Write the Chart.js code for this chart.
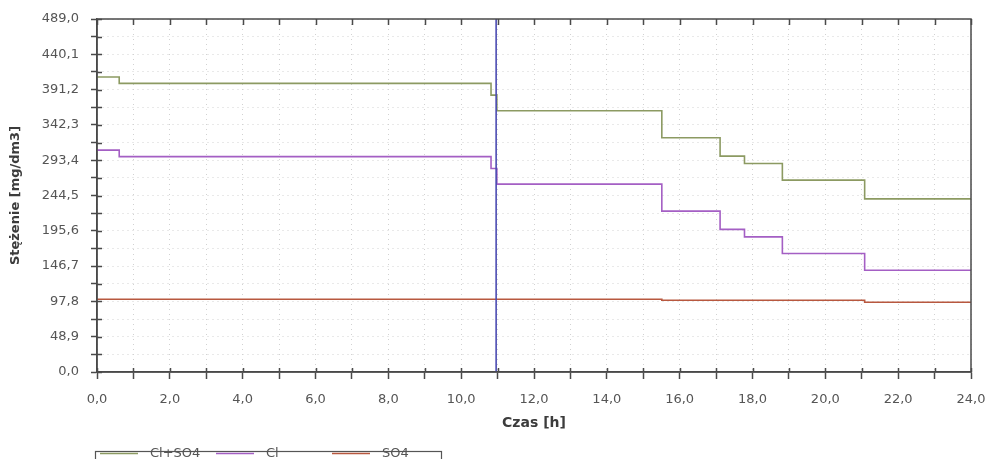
<!DOCTYPE html>
<html>
<head>
<meta charset="utf-8">
<script src="https://cdn.jsdelivr.net/npm/chart.js@4.4.1/dist/chart.umd.min.js"></script>
<style>
  html, body { margin: 0; padding: 0; background: #fff; }
  #wrap { width: 988px; height: 459px; position: relative; }
</style>
</head>
<body>
<div id="wrap"><canvas id="theChart"></canvas></div>
<script>
// hours where the step values change, and the concentration held from each hour
const stepHours = [0, 0.61, 10.82, 10.98, 15.51, 17.11, 17.78, 18.82, 21.08, 24];
const clSo4Values = [408.6, 399.8, 383.6, 361.9, 324.4, 299.0, 288.9, 265.8, 239.8, 239.8];
const clValues = [307.4, 298.4, 282.0, 260.2, 222.8, 197.6, 187.2, 164.1, 141.0, 141.0];
const so4Values = [100.8, 100.8, 100.8, 100.8, 99.4, 99.4, 99.4, 99.4, 96.6, 96.6];
const markerHour = 10.96;

const seriesNames = ["Cl+SO4", "Cl", "SO4"];
const colorPalette = ["#8c9a62", "#a45fc4", "#b8583f"];
const markerColor = "#4b4bb2";

const yMax = 489.0;
const yStep = 24.45;
const xMax = 24;

const chartArea = document.querySelector("#theChart");

function comma(v) {
  return v.toFixed(1).replace(".", ",");
}

const seriesValues = [clSo4Values, clValues, so4Values];
const datasets = seriesValues.map((values, i) => ({
  label: seriesNames[i],
  data: stepHours.map((h, k) => ({ x: h, y: values[k] })),
  borderColor: colorPalette[i],
  backgroundColor: colorPalette[i],
  borderWidth: 1.6,
  stepped: true,
  pointRadius: 0,
  order: 1,
}));

datasets.push({
  label: "marker",
  data: [{ x: markerHour, y: 0 }, { x: markerHour, y: yMax }],
  borderColor: markerColor,
  borderWidth: 1.6,
  pointRadius: 0,
  order: 0,
});

// frame, inner ticks, axis titles and the boxed legend
const frame = {
  id: "frame",
  afterDraw(chart) {
    const { ctx, chartArea: a, scales } = chart;
    const x = scales.x;
    const y = scales.y;
    ctx.save();
    ctx.strokeStyle = "#4a4a4a";
    ctx.lineWidth = 1.5;
    ctx.strokeRect(a.left, a.top, a.right - a.left, a.bottom - a.top);

    ctx.beginPath();
    x.ticks.forEach((t) => {
      const px = Math.round(x.getPixelForValue(t.value)) + 0.5;
      ctx.moveTo(px, a.bottom);
      ctx.lineTo(px, a.bottom - 4);
      ctx.moveTo(px, a.top);
      ctx.lineTo(px, a.top + 6);
    });
    y.ticks.forEach((t) => {
      const py = Math.round(y.getPixelForValue(t.value)) + 0.5;
      ctx.moveTo(a.left, py);
      ctx.lineTo(a.left + 5, py);
    });
    ctx.stroke();

    ctx.fillStyle = "#3c3c3c";
    ctx.font = "bold 14px 'DejaVu Sans'";
    ctx.textAlign = "center";
    ctx.textBaseline = "middle";
    ctx.fillText("Czas [h]", (a.left + a.right) / 2, 423);

    ctx.save();
    ctx.translate(16, (a.top + a.bottom) / 2);
    ctx.rotate(-Math.PI / 2);
    ctx.font = "bold 13px 'DejaVu Sans'";
    ctx.fillText("Stężenie [mg/dm3]", 0, 0);
    ctx.restore();

    // legend
    ctx.strokeStyle = "#555";
    ctx.lineWidth = 1.2;
    ctx.strokeRect(95.5, 451.5, 346, 20);
    ctx.font = "13px 'DejaVu Sans'";
    ctx.textAlign = "left";
    ctx.fillStyle = "#555";
    chart.data.datasets.slice(0, 3).forEach((ds, i) => {
      const sx = 100 + i * 116;
      ctx.strokeStyle = ds.borderColor;
      ctx.lineWidth = 1.4;
      ctx.beginPath();
      ctx.moveTo(sx, 453.5);
      ctx.lineTo(sx + 38, 453.5);
      ctx.stroke();
      ctx.fillText(ds.label, sx + 50, 454);
    });
    ctx.restore();
  },
};

const myChart = new Chart(chartArea, {
  type: "line",
  data: { datasets },
  plugins: [frame],
  options: {
    responsive: true,
    maintainAspectRatio: false,
    animation: false,
    layout: { padding: { left: 0, right: 17, top: 19, bottom: 0 } },
    plugins: {
      legend: { display: false },
      tooltip: { enabled: false },
    },
    scales: {
      x: {
        type: "linear",
        min: 0,
        max: xMax,
        afterFit: (scale) => {
          scale.height = 87;
          scale.paddingLeft = 0;
          scale.paddingRight = 0;
        },
        ticks: {
          stepSize: 1,
          autoSkip: false,
          maxRotation: 0,
          padding: 13,
          color: "#555",
          font: { family: "'DejaVu Sans'", size: 13 },
          callback: (v) => (v % 2 === 0 ? comma(v) : ""),
        },
        grid: {
          color: "#d2d2d2",
          tickColor: "#4a4a4a",
          tickLength: 7,
          tickWidth: 1.5,
          tickBorderDash: [],
        },
        border: { display: true, color: "#4a4a4a", width: 1.5, dash: [1, 4] },
      },
      y: {
        type: "linear",
        min: 0,
        max: yMax,
        afterFit: (scale) => {
          scale.width = 97;
          scale.paddingTop = 0;
          scale.paddingBottom = 0;
        },
        ticks: {
          stepSize: yStep,
          autoSkip: false,
          padding: 12,
          color: "#555",
          font: { family: "'DejaVu Sans'", size: 13 },
          callback: (v, i) => (i % 2 === 0 ? comma(v) : ""),
        },
        grid: {
          color: "#d2d2d2",
          tickColor: "#4a4a4a",
          tickLength: 6,
          tickWidth: 1.5,
          tickBorderDash: [],
        },
        border: { display: true, color: "#4a4a4a", width: 1.5, dash: [1, 4] },
      },
    },
  },
});
</script>
</body>
</html>
